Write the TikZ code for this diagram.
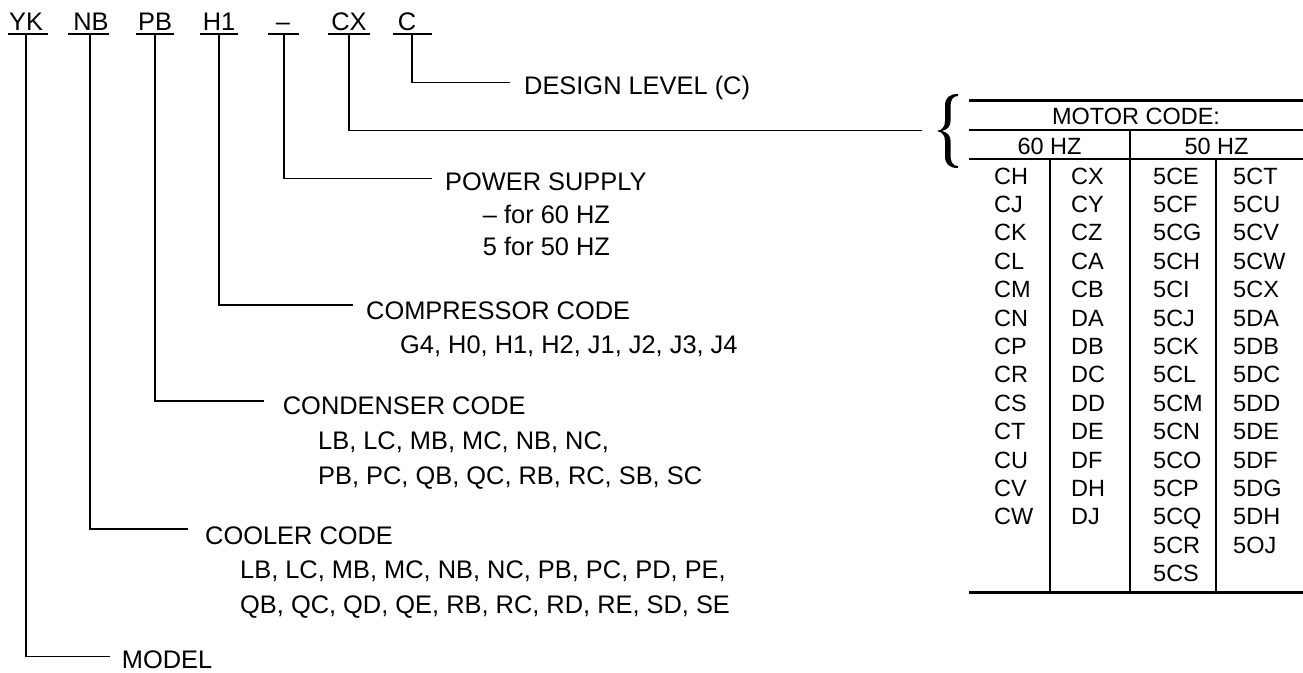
\documentclass[tikz,border=0pt]{standalone}
\usepackage{fontspec}
\setmainfont{Liberation Sans}
\begin{document}
\begin{tikzpicture}[x=1pt,y=-1pt,
  lbl/.style={inner sep=0pt, anchor=base west, font=\fontsize{25.4}{30}\selectfont},
  lblc/.style={inner sep=0pt, anchor=base, font=\fontsize{25.4}{30}\selectfont},
  hdr/.style={inner sep=0pt, anchor=base, font=\fontsize{25.4}{30}\selectfont},
  tcell/.style={inner sep=0pt, anchor=base west, font=\fontsize{23.5}{28}\selectfont},
  thead/.style={inner sep=0pt, anchor=base, font=\fontsize{23.5}{28}\selectfont},
  conn/.style={line width=1.4pt},
  uline/.style={line width=1.6pt},
  trule/.style={line width=2.6pt},
  tthin/.style={line width=1.4pt}]
\useasboundingbox (0,0) rectangle (1303,672);

% header codes
\node[hdr] (yk) at (26,30) {YK};
\node[hdr] (nb) at (91,30) {NB};
\node[hdr] (pb) at (155,30) {PB};
\node[hdr] (h1) at (219,30) {H1};
\node[hdr] (ps) at (283,30) {–};
\node[hdr] (cx) at (349,30) {CX};
\node[hdr] (dc) at (407,30) {C};
\draw[uline] (8,34) -- (48,34);
\draw[uline] (68,34) -- (109,34);
\draw[uline] (136,34) -- (174,34);
\draw[uline] (200,34) -- (238,34);
\draw[uline] (268,34) -- (299,34);
\draw[uline] (328,34) -- (370,34);
\draw[uline] (393,34) -- (432,34);

% connector start points (under the underlines)
\coordinate (ykb) at (26,34);
\coordinate (nbb) at (90,34);
\coordinate (pbb) at (155,34);
\coordinate (h1b) at (219,34);
\coordinate (psb) at (284,34);
\coordinate (cxb) at (349,34);
\coordinate (dcb) at (412,34);

% connector end points
\coordinate (dce) at (510,82.7);
\coordinate (cxe) at (921.7,130.7);
\coordinate (pse) at (431.7,178.3);
\coordinate (h1e) at (352.7,305);
\coordinate (pbe) at (264,401);
\coordinate (nbe) at (188.3,529);
\coordinate (yke) at (110,656.7);

\draw[conn] (dcb) |- (dce);
\draw[conn] (cxb) |- (cxe);
\draw[conn] (psb) |- (pse);
\draw[conn] (h1b) |- (h1e);
\draw[conn] (pbb) |- (pbe);
\draw[conn] (nbb) |- (nbe);
\draw[conn] (ykb) |- (yke);

% labels
\node[lbl] (design) at (524,94.5) {DESIGN LEVEL (C)};
\node[lbl] (power) at (445,190.7) {POWER SUPPLY};
\node[lblc] (power1) at (546.5,223.3) {– for 60 HZ};
\node[lblc] (power2) at (546.5,255) {5 for 50 HZ};
\node[lbl] (comp) at (366,319) {COMPRESSOR CODE};
\node[lbl] (comp1) at (400,353) {G4, H0, H1, H2, J1, J2, J3, J4};
\node[lbl] (cond) at (282.7,414) {CONDENSER CODE};
\node[lbl] (cond1) at (318,449) {LB, LC, MB, MC, NB, NC,};
\node[lbl] (cond2) at (318,484) {PB, PC, QB, QC, RB, RC, SB, SC};
\node[lbl] (cool) at (205,544) {COOLER CODE};
\node[lbl] (cool1) at (240,578.5) {LB, LC, MB, MC, NB, NC, PB, PC, PD, PE,};
\node[lbl] (cool2) at (240,613) {QB, QC, QD, QE, RB, RC, RD, RE, SD, SE};
\node[lbl, text depth=0pt] (model) at (121.7,668.5) {MODEL};

% brace (typeset-like, thick in the middle)
\fill (958,94) .. controls (949,94) and (945,98) .. (945,106) -- (945,121)
  .. controls (945,127) and (942,130) .. (937,131)
  .. controls (942,132) and (945,135) .. (945,141) -- (945,156)
  .. controls (945,164) and (949,168) .. (958,168) -- (958,166)
  .. controls (953,166) and (950.5,162) .. (950.5,156) -- (950.5,141)
  .. controls (950.5,136) and (948,132.5) .. (942,131)
  .. controls (948,129.5) and (950.5,126) .. (950.5,121) -- (950.5,106)
  .. controls (950.5,100) and (953,96) .. (958,96) -- cycle;

% motor code table
\draw[trule] (969,100.7) -- (1303,100.7);
\draw[trule] (969,130) -- (1303,130);
\draw[trule] (969,159) -- (1303,159);
\draw[trule] (969,592.7) -- (1303,592.7);
\draw[trule] (1130,130) -- (1130,592.7);
\draw[tthin] (1050,159) -- (1050,592.7);
\draw[tthin] (1216,159) -- (1216,592.7);
\node[thead] (motor) at (1136,124.5) {MOTOR CODE:};
\node[thead] (hz60) at (1049.5,154) {60 HZ};
\node[thead] (hz50) at (1216.5,154) {50 HZ};

\foreach \t [count=\i from 0] in {CH,CJ,CK,CL,CM,CN,CP,CR,CS,CT,CU,CV,CW}
  \node[tcell] (a\i) at (994,184+28.4*\i) {\t};
\foreach \t [count=\i from 0] in {CX,CY,CZ,CA,CB,DA,DB,DC,DD,DE,DF,DH,DJ}
  \node[tcell] (b\i) at (1071,184+28.4*\i) {\t};
\foreach \t [count=\i from 0] in {5CE,5CF,5CG,5CH,5CI,5CJ,5CK,5CL,5CM,5CN,5CO,5CP,5CQ,5CR,5CS}
  \node[tcell] (c\i) at (1153,184+28.4*\i) {\t};
\foreach \t [count=\i from 0] in {5CT,5CU,5CV,5CW,5CX,5DA,5DB,5DC,5DD,5DE,5DF,5DG,5DH,5OJ}
  \node[tcell] (d\i) at (1233,184+28.4*\i) {\t};
\end{tikzpicture}
\end{document}
